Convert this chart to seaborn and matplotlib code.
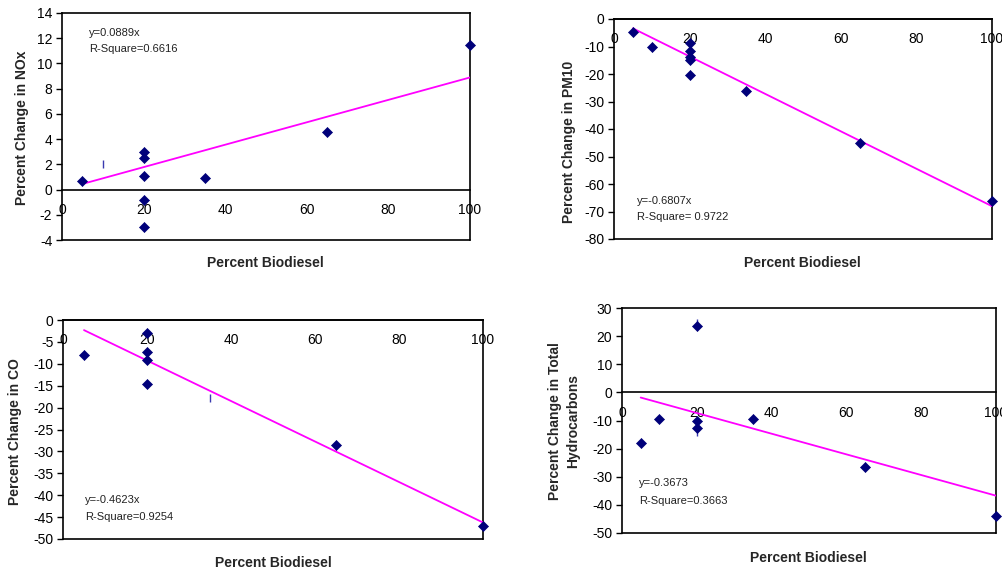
import matplotlib
matplotlib.use('Agg')
import matplotlib.pyplot as plt
import numpy as np
import pandas as pd
import seaborn as sns

sns.set_style('white')
plt.rcParams['font.family'] = ['Liberation Sans', 'DejaVu Sans']
plt.rcParams['axes.unicode_minus'] = False

W, H = 1003, 573
NAVY = '#00007a'
STRAY = '#3a3ab0'
PINK = '#ff00ff'

# values (x = percent biodiesel, y = percent change)
nox_x = [5, 20, 20, 20, 20, 20, 35, 65, 100]
nox_y = [0.65, 3.0, 2.5, 1.1, -0.8, -2.95, 0.9, 4.6, 11.5]
nox_stray_x = [10]
nox_stray_y = [2.0]
nox_slope = 0.0889

pm_x = [5, 10, 20, 20, 20, 20, 20, 35, 65, 100]
pm_y = [-4.7, -10.2, -8.9, -11.8, -13.8, -15.0, -20.2, -26.2, -45.2, -66.0]
pm_slope = -0.6807

co_x = [5, 20, 20, 20, 20, 65, 100]
co_y = [-8.0, -2.9, -7.2, -9.1, -14.5, -28.6, -47.0]
co_stray_x = [35]
co_stray_y = [-17.8]
co_slope = -0.4623

thc_x = [5, 10, 20, 20, 20, 35, 65, 100]
thc_y = [-17.9, -9.5, 23.7, -10.2, -12.6, -9.4, -26.6, -43.8]
thc_err_x = [20, 20]
thc_err_y = [23.7, -12.6]
thc_err_up = [2.4, 0.0]
thc_err_down = [0.0, 3.0]
thc_slope = -0.3673

x_ticks = [0, 20, 40, 60, 80, 100]


def px_rect(left, top, right, bottom):
    return [left / W, 1 - bottom / H, (right - left) / W, (bottom - top) / H]


def fig_text(fig, x, y, s, **kw):
    fig.text(x / W, 1 - y / H, s, **kw)


def draw_panel(ax, xs, ys, slope, ylim, ystep):
    pts = pd.DataFrame({'x': xs, 'y': ys})
    sns.scatterplot(data=pts, x='x', y='y', marker='D', color=NAVY, s=26,
                    edgecolor=NAVY, linewidth=0.5, ax=ax, zorder=4, clip_on=False)
    fit = pd.DataFrame({'x': [min(xs), max(xs)]})
    fit['y'] = slope * fit['x']
    sns.lineplot(data=fit, x='x', y='y', color=PINK, lw=1.3, ax=ax, zorder=3)

    ax.set_xlim(0, 100)
    ax.set_ylim(*ylim)
    ax.set_xticks(x_ticks)
    ax.set_yticks(np.arange(ylim[0], ylim[1] + ystep / 2, ystep))
    ax.set_xlabel('')
    ax.set_ylabel('')

    for side in ['left', 'right', 'top', 'bottom']:
        ax.spines[side].set_visible(True)
        ax.spines[side].set_color('black')
        ax.spines[side].set_linewidth(1.2)
    ax.spines['bottom'].set_position(('data', 0))
    # bottom border of the plot area
    ax.axhline(ylim[0], color='black', lw=1.2, clip_on=False)

    ax.tick_params(axis='x', direction='inout', length=9, width=1,
                   pad=5, labelsize=10, colors='black')
    ax.tick_params(axis='y', direction='out', length=4, width=1,
                   pad=3, labelsize=10, colors='black', left=True)


fig = plt.figure(figsize=(W / 100, H / 100), dpi=100)

ax1 = fig.add_axes(px_rect(62, 13, 470, 240))
draw_panel(ax1, nox_x, nox_y, nox_slope, (-4, 14), 2)
sns.scatterplot(x=nox_stray_x, y=nox_stray_y, marker='|', color=STRAY, s=40,
                linewidth=1, ax=ax1)

ax2 = fig.add_axes(px_rect(614, 19, 992, 239))
draw_panel(ax2, pm_x, pm_y, pm_slope, (-80, 0), 10)

ax3 = fig.add_axes(px_rect(63, 320, 483, 539))
draw_panel(ax3, co_x, co_y, co_slope, (-50, 0), 5)
sns.scatterplot(x=co_stray_x, y=co_stray_y, marker='|', color=STRAY, s=40,
                linewidth=1, ax=ax3)

ax4 = fig.add_axes(px_rect(622, 308, 996, 533))
ax4.errorbar(thc_err_x, thc_err_y, yerr=[thc_err_down, thc_err_up], fmt='none',
             ecolor=STRAY, elinewidth=1, capsize=0, zorder=2)
draw_panel(ax4, thc_x, thc_y, thc_slope, (-50, 30), 10)

# axis titles
lab = dict(fontsize=10, fontweight='bold', ha='center', va='center')
fig_text(fig, 265, 263, 'Percent Biodiesel', **lab)
fig_text(fig, 802, 263, 'Percent Biodiesel', **lab)
fig_text(fig, 273, 563, 'Percent Biodiesel', **lab)
fig_text(fig, 808, 558, 'Percent Biodiesel', **lab)
fig_text(fig, 22, 128, 'Percent Change in NOx', rotation=90, **lab)
fig_text(fig, 569, 142, 'Percent Change in PM10', rotation=90, **lab)
fig_text(fig, 15, 432, 'Percent Change in CO', rotation=90, **lab)
fig_text(fig, 564, 421, 'Percent Change in Total\nHydrocarbons', rotation=90,
         linespacing=1.35, **lab)

# regression annotations
ann = dict(fontsize=8, ha='left', va='center', color='#222222')
fig_text(fig, 89, 33, 'y=0.0889x', **ann)
fig_text(fig, 89, 49, 'R-Square=0.6616', **ann)
fig_text(fig, 637, 201, 'y=-0.6807x', **ann)
fig_text(fig, 637, 217, 'R-Square= 0.9722', **ann)
fig_text(fig, 85, 500, 'y=-0.4623x', **ann)
fig_text(fig, 85, 517, 'R-Square=0.9254', **ann)
fig_text(fig, 639, 483, 'y=-0.3673', **ann)
fig_text(fig, 639, 501, 'R-Square=0.3663', **ann)

fig.savefig('out.png', dpi=100)
